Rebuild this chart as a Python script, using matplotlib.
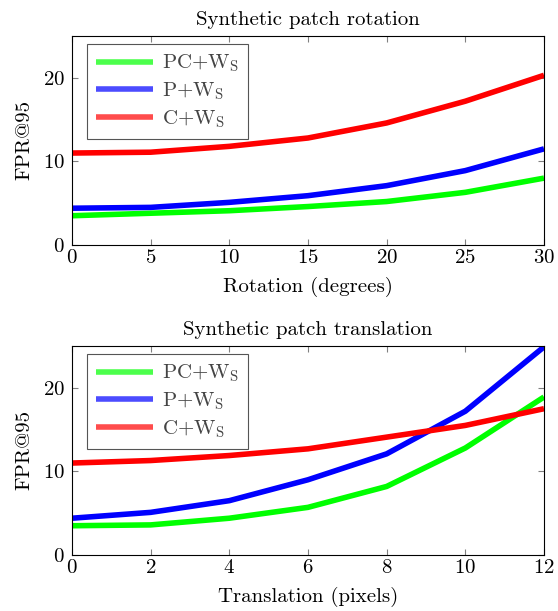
import matplotlib
matplotlib.use('Agg')
import matplotlib.pyplot as plt

plt.rcParams['font.family'] = 'cmr10'
plt.rcParams['mathtext.fontset'] = 'cm'
plt.rcParams['axes.formatter.use_mathtext'] = True

labels = [r'PC+W$_\mathrm{S}$', r'P+W$_\mathrm{S}$', r'C+W$_\mathrm{S}$']
colors = ['#00ff00', '#0000ff', '#ff0000']

rotation = [0, 5, 10, 15, 20, 25, 30]
rot_pc = [3.5, 3.8, 4.1, 4.6, 5.2, 6.3, 8.0]
rot_p = [4.4, 4.5, 5.1, 5.9, 7.1, 8.9, 11.5]
rot_c = [11.0, 11.1, 11.8, 12.8, 14.6, 17.2, 20.3]

translation = [0, 2, 4, 6, 8, 10, 12]
tr_pc = [3.5, 3.6, 4.4, 5.7, 8.2, 12.8, 18.9]
tr_p = [4.4, 5.1, 6.5, 9.0, 12.1, 17.2, 24.9]
tr_c = [11.0, 11.3, 11.9, 12.7, 14.1, 15.5, 17.5]

AX_W, AX_H = 472, 209  # axes size in pixels


def draw_panel(ax, x, series, xticks, title, xlabel):
    for y, lab, col in zip(series, labels, colors):
        ax.plot(x, y, color=col, lw=4, label=lab, solid_capstyle='butt')
    ax.set_xlim(x[0], x[-1])
    ax.set_ylim(0, 25)
    ax.set_xticks(xticks)
    ax.set_yticks([0, 10, 20])
    ax.tick_params(direction='in', top=True, right=True, length=4, color='#808080',
                   labelsize=15)
    ax.tick_params(axis='x', pad=3)
    ax.tick_params(axis='y', pad=5)
    ax.set_title(title, fontsize=15, pad=8)
    ax.set_xlabel(xlabel, fontsize=15, labelpad=7)
    ax.set_ylabel('FPR@95', fontsize=15, labelpad=7)
    leg = ax.legend(loc='upper left', bbox_to_anchor=(15 / AX_W, 1 - 7.5 / AX_H),
                    borderaxespad=0, fontsize=15, fancybox=False, framealpha=1,
                    edgecolor='#555555', handlelength=2.7, handletextpad=0.45,
                    borderpad=0.45, labelspacing=0.3)
    leg.get_frame().set_linewidth(0.8)
    for t in leg.get_texts():
        t.set_color('#444444')
    for h in leg.get_lines():
        h.set_alpha(0.7)


fig = plt.figure(figsize=(5.58, 6.11), dpi=100)
ax1 = fig.add_axes([72 / 558, 1 - 245 / 611, AX_W / 558, AX_H / 611])
ax2 = fig.add_axes([72 / 558, 1 - 555 / 611, AX_W / 558, AX_H / 611])

draw_panel(ax1, rotation, [rot_pc, rot_p, rot_c], rotation,
           'Synthetic patch rotation', 'Rotation (degrees)')
draw_panel(ax2, translation, [tr_pc, tr_p, tr_c], translation,
           'Synthetic patch translation', 'Translation (pixels)')

fig.savefig('out.png', dpi=100)
